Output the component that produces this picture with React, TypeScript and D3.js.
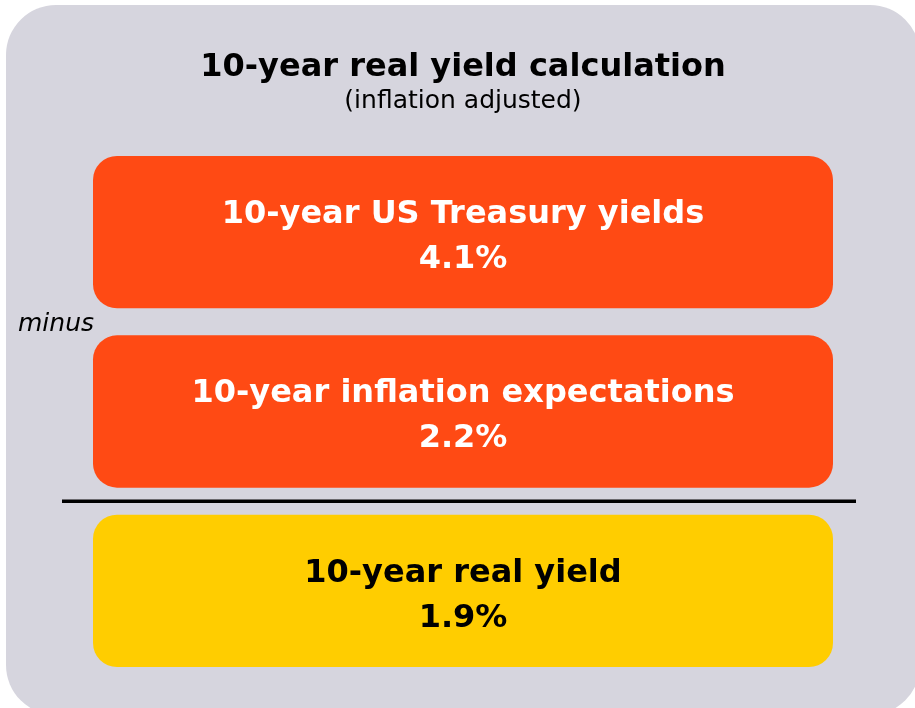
import React from "react";
import * as d3 from "d3";

const title = "10-year real yield calculation";
const subtitle = "(inflation adjusted)";
const labels = ["10-year US Treasury yields", "10-year inflation expectations", "10-year real yield"];
const values = [4.1, 2.2, 1.9];
const kinds = ["input", "input", "result"];
const operator = "minus";

const W = 915, H = 708;
const FONT = "'DejaVu Sans', sans-serif";

export default function App() {
  const y = d3.scaleBand<string>()
    .domain(labels)
    .range([156, 667])
    .paddingInner(0.151);
  const x = d3.scaleLinear().domain([0, 1]).range([93, 833]);
  const color = d3.scaleOrdinal<string, string>()
    .domain(["input", "result"])
    .range(["#ff4a14", "#ffcd00"]);
  const fmt = (v: number) => d3.format(".1f")(v) + "%";

  // divider sits halfway in the gap before the result box
  const gapMid = (i: number) => (y(labels[i])! + y.bandwidth() + y(labels[i + 1])!) / 2;

  return (
    <div style={{ position: "fixed", left: 0, top: 0 }}>
      <svg width={W} height={H} style={{ display: "block" }}>
        <rect x={6} y={5} width={914} height={710} rx={50} fill="#d6d5de" />
        <text x={463} y={76} textAnchor="middle" fontFamily={FONT} fontWeight={700} fontSize={32} fill="#000">{title}</text>
        <text x={463} y={108} textAnchor="middle" fontFamily={FONT} fontSize={25} fill="#000">{subtitle}</text>
        {labels.map((l, i) => {
          const top = y(l)!;
          const cx = (x(0) + x(1)) / 2;
          const fill = kinds[i] === "result" ? "#000" : "#fff";
          return (
            <g key={l}>
              <rect x={x(0)} y={top} width={x(1) - x(0)} height={y.bandwidth()} rx={24} fill={color(kinds[i])} />
              <text x={cx} y={top + 67} textAnchor="middle" fontFamily={FONT} fontWeight={700} fontSize={32} fill={fill}>{l}</text>
              <text x={cx} y={top + 112} textAnchor="middle" fontFamily={FONT} fontWeight={700} fontSize={32} fill={fill}>{fmt(values[i])}</text>
            </g>
          );
        })}
        <text x={18} y={331} fontFamily={FONT} fontStyle="italic" fontSize={25} fill="#000">{operator}</text>
        <line x1={62} x2={856} y1={gapMid(1)} y2={gapMid(1)} stroke="#000" strokeWidth={3.5} />
      </svg>
    </div>
  );
}
